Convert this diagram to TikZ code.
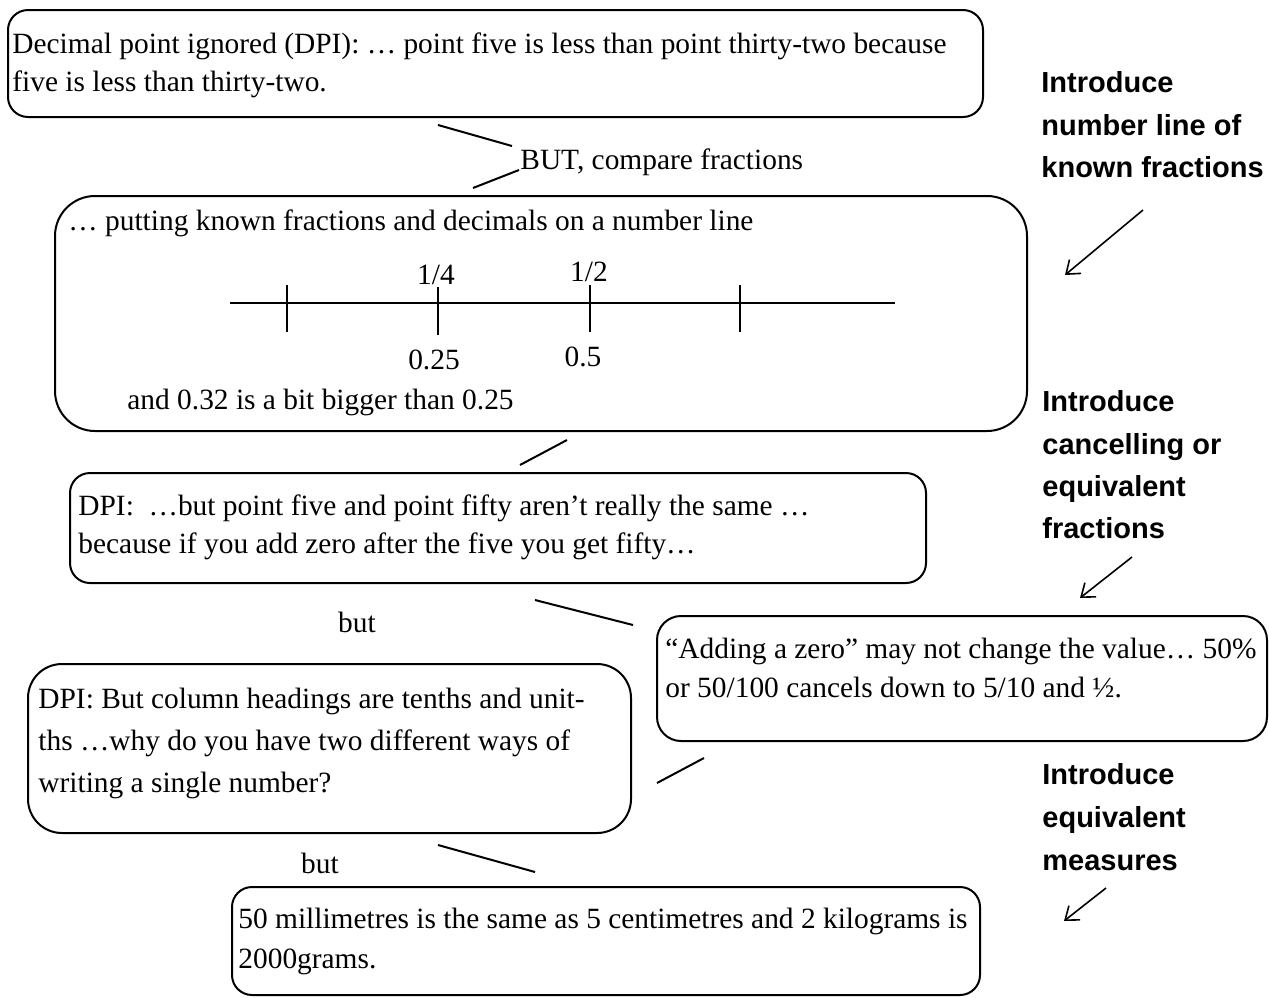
\documentclass[tikz,border=0pt]{standalone}
\usepackage{fontspec}
\setmainfont{Liberation Serif}
\setsansfont{Liberation Sans}
\usetikzlibrary{arrows.meta,fit}
\begin{document}
\begin{tikzpicture}[x=0.5pt,y=-0.5pt,
  box/.style={draw, line width=1pt, inner sep=0pt, rounded corners=#1},
  box/.default=10pt,
  txt/.style={anchor=base west, inner sep=0pt, font=\fontsize{14.7}{17}\selectfont},
  ctxt/.style={anchor=base, inner sep=0pt, font=\fontsize{14.7}{17}\selectfont},
  lbl/.style={anchor=base west, inner sep=0pt, font=\sffamily\bfseries\fontsize{14.5}{17}\selectfont},
  link/.style={line width=1pt},
  hint/.style={line width=0.8pt, -{Straight Barb[length=6pt,width=9pt]}},
  tickmark/.style={line width=1pt}]
\useasboundingbox (0,0) rectangle (1269,997);

% box 1
\node[box=10pt, fit={(8,10) (983,117)}] (b1) {};
\node[txt] (t1a) at (12,53) {Decimal point ignored (DPI): … point five is less than point thirty-two because};
\node[txt] (t1b) at (12,91) {five is less than thirty-two.};

\coordinate (l1a) at (438,125); \coordinate (l1b) at (512,146);
\draw[link] (l1a) -- (l1b);
\node[txt] (butc) at (520,169) {BUT, compare fractions};
\coordinate (l2a) at (473,188); \coordinate (l2b) at (519,170);
\draw[link] (l2a) -- (l2b);

% box 2
\node[box=20pt, fit={(55,196) (1027,431)}] (b2) {};
\node[txt] (t2a) at (68,230) {… putting known fractions and decimals on a number line};
\coordinate (nlA) at (230,303); \coordinate (nlB) at (895,303);
\draw[tickmark] (nlA) -- (nlB);
\coordinate (k1a) at (287,285); \coordinate (k1b) at (287,332);
\coordinate (k2a) at (438,287); \coordinate (k2b) at (438,335);
\coordinate (k3a) at (590,285); \coordinate (k3b) at (590,332);
\coordinate (k4a) at (740,285); \coordinate (k4b) at (740,332);
\draw[tickmark] (k1a) -- (k1b);
\draw[tickmark] (k2a) -- (k2b);
\draw[tickmark] (k3a) -- (k3b);
\draw[tickmark] (k4a) -- (k4b);
\node[ctxt] (q1) at (436,284) {1/4};
\node[ctxt] (q2) at (589,281) {1/2};
\node[ctxt] (d1) at (434,369) {0.25};
\node[ctxt] (d2) at (583,366) {0.5};
\node[txt] (t2b) at (127,409) {and 0.32 is a bit bigger than 0.25};

\coordinate (l3a) at (520,465); \coordinate (l3b) at (567,440);
\draw[link] (l3a) -- (l3b);

% box 3
\node[box=10pt, fit={(70,473) (926,583)}] (b3) {};
\node[txt] (t3a) at (78,515) {DPI:\ \ …but point five and point fifty aren’t really the same …};
\node[txt] (t3b) at (78,553) {because if you add zero after the five you get fifty…};

\node[ctxt] (but2) at (357,632) {but};
\coordinate (l4a) at (535,600); \coordinate (l4b) at (633,625);
\draw[link] (l4a) -- (l4b);

% box 4
\node[box=12pt, fit={(657,616) (1267,741)}] (b4) {};
\node[txt] (t4a) at (665,658) {“Adding a zero” may not change the value… 50\%};
\node[txt] (t4b) at (665,697) {or 50/100 cancels down to 5/10 and ½.};

\coordinate (l5a) at (657,783); \coordinate (l5b) at (704,758);
\draw[link] (l5a) -- (l5b);

% box 5
\node[box=17pt, fit={(28,664) (631,833)}] (b5) {};
\node[txt] (t5a) at (38,708) {DPI: But column headings are tenths and unit-};
\node[txt] (t5b) at (38,750) {ths …why do you have two different ways of};
\node[txt] (t5c) at (38,792) {writing a single number?};

\node[ctxt] (but3) at (320,873) {but};
\coordinate (l6a) at (438,845); \coordinate (l6b) at (535,872);
\draw[link] (l6a) -- (l6b);

% box 6
\node[box=10pt, fit={(232,887) (980,995)}] (b6) {};
\node[txt] (t6a) at (238,928) {50 millimetres is the same as 5 centimetres and 2 kilograms is};
\node[txt] (t6b) at (238,968) {2000grams.};

% side labels
\node[lbl] (s1a) at (1041,92) {Introduce};
\node[lbl] (s1b) at (1041,135) {number line of};
\node[lbl] (s1c) at (1041,177) {known fractions};
\coordinate (a1s) at (1143,210); \coordinate (a1e) at (1065,275);
\draw[hint] (a1s) -- (a1e);

\node[lbl] (s2a) at (1042,411) {Introduce};
\node[lbl] (s2b) at (1042,454) {cancelling or};
\node[lbl] (s2c) at (1042,496) {equivalent};
\node[lbl] (s2d) at (1042,538) {fractions};
\coordinate (a2s) at (1132,557); \coordinate (a2e) at (1080,598);
\draw[hint] (a2s) -- (a2e);

\node[lbl] (s3a) at (1042,784) {Introduce};
\node[lbl] (s3b) at (1042,827) {equivalent};
\node[lbl] (s3c) at (1042,870) {measures};
\coordinate (a3s) at (1106,888); \coordinate (a3e) at (1064,921);
\draw[hint] (a3s) -- (a3e);
\end{tikzpicture}
\end{document}
